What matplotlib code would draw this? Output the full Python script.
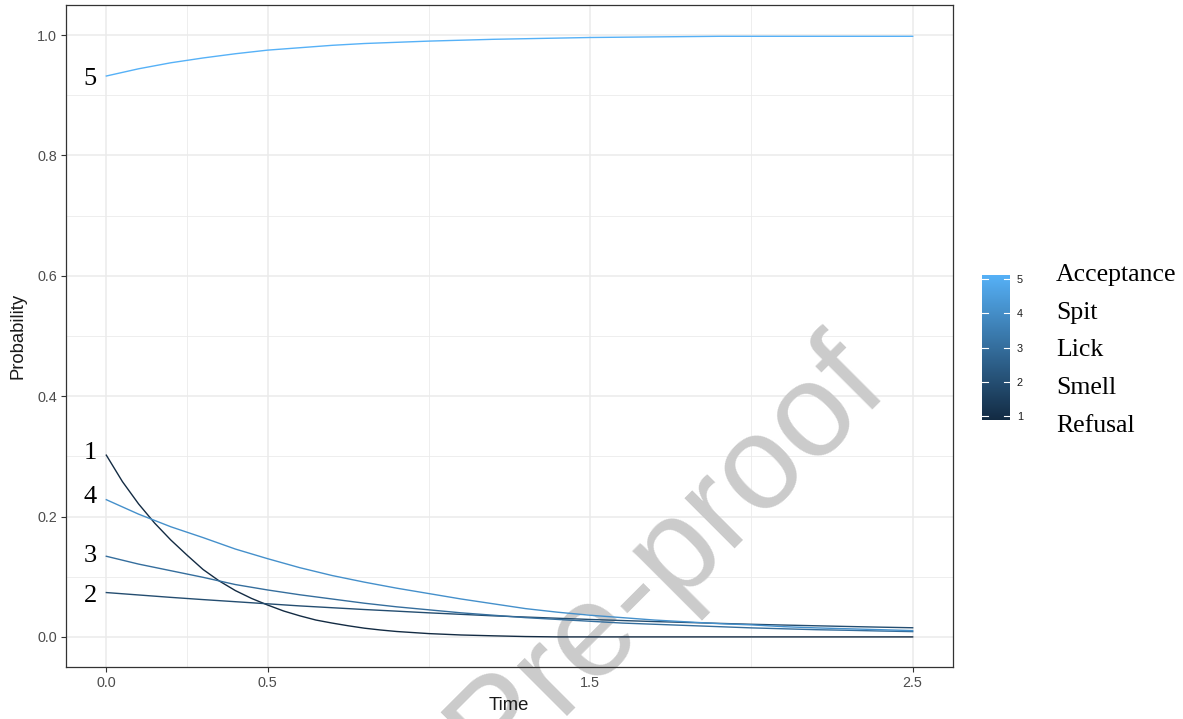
import numpy as np
import matplotlib
matplotlib.use('Agg')
import matplotlib.pyplot as plt
from matplotlib.colors import LinearSegmentedColormap

# values
time = [0.0, 0.1, 0.2, 0.3, 0.4, 0.5, 0.6, 0.7, 0.8, 0.9, 1.0, 1.1, 1.2,
        1.3, 1.4, 1.5, 1.6, 1.7, 1.8, 1.9, 2.0, 2.1, 2.2, 2.3, 2.4, 2.5]

# refusal bends sharply, so it was read at a finer step
refusal_time = [0.0, 0.05, 0.1, 0.15, 0.2, 0.25, 0.3, 0.35, 0.4, 0.45, 0.5,
                0.55, 0.6, 0.65, 0.7, 0.75, 0.8, 0.85, 0.9, 1.0, 1.1, 1.2,
                1.3, 1.4, 2.5]
refusal = [0.302, 0.258, 0.221, 0.189, 0.161, 0.136, 0.112, 0.093, 0.077,
           0.064, 0.053, 0.043, 0.035, 0.028, 0.023, 0.0185, 0.0145, 0.0115,
           0.009, 0.0055, 0.0032, 0.0018, 0.0006, 0.0, 0.0]
smell = [0.0737, 0.0697, 0.0657, 0.062, 0.0585, 0.055, 0.0515, 0.0485,
         0.0455, 0.0428, 0.040, 0.0375, 0.035, 0.033, 0.031, 0.029, 0.0272,
         0.0255, 0.024, 0.0225, 0.021, 0.0197, 0.0185, 0.0173, 0.0162, 0.0152]
lick = [0.134, 0.121, 0.110, 0.099, 0.087, 0.078, 0.070, 0.063, 0.056,
        0.050, 0.045, 0.040, 0.036, 0.032, 0.029, 0.026, 0.023, 0.021,
        0.019, 0.017, 0.015, 0.0135, 0.012, 0.011, 0.0098, 0.0088]
spit = [0.228, 0.204, 0.183, 0.165, 0.146, 0.130, 0.115, 0.102, 0.091,
        0.081, 0.072, 0.063, 0.055, 0.047, 0.041, 0.036, 0.032, 0.028,
        0.025, 0.022, 0.020, 0.017, 0.015, 0.0135, 0.012, 0.0105]
acceptance = [0.932, 0.944, 0.954, 0.962, 0.969, 0.975, 0.979, 0.983,
              0.986, 0.988, 0.990, 0.9915, 0.993, 0.994, 0.995, 0.996,
              0.9965, 0.997, 0.9975, 0.998, 0.998, 0.998, 0.998, 0.998,
              0.998, 0.998]

levels = [1, 2, 3, 4, 5]
names = ['Refusal', 'Smell', 'Lick', 'Spit', 'Acceptance']
label_pos = [0.311, 0.0735, 0.139, 0.237, 0.932]

series = [(refusal_time, refusal), (time, smell), (time, lick),
          (time, spit), (time, acceptance)]

W, H = 1183, 719
cmap = LinearSegmentedColormap.from_list('gg', ['#132B43', '#56B1F7'])

fig = plt.figure(figsize=(W / 100, H / 100), dpi=100)
ax = fig.add_axes([66 / W, 1 - 667 / H, (953 - 66) / W, (667 - 5) / H])

for lev, (t, vals) in zip(levels, series):
    ax.plot(t, vals, color=cmap((lev - 1) / 4), lw=1.0, zorder=3)

for lev, y in zip(levels, label_pos):
    ax.annotate(str(lev), xy=(0, y), xytext=(-6.8, -6.5),
                textcoords='offset points', ha='right', va='baseline',
                fontsize=19, family='Liberation Serif', color='black')

ax.set_xlim(-0.125, 2.625)
ax.set_ylim(-0.05, 1.05)
ax.set_xticks([0, 0.5, 1.5, 2.5])
ax.set_xticklabels(['0.0', '0.5', '1.5', '2.5'])
ax.set_xticks([0.25, 1.0, 2.0], minor=True)
ax.set_yticks([0, 0.2, 0.4, 0.6, 0.8, 1.0])
ax.set_yticklabels(['0.0', '0.2', '0.4', '0.6', '0.8', '1.0'])
ax.set_yticks([0.1, 0.3, 0.5, 0.7, 0.9], minor=True)
ax.set_axisbelow(True)
ax.grid(which='major', color='#EBEBEB', lw=1.1)
ax.grid(which='minor', color='#EBEBEB', lw=0.6)
ax.tick_params(which='major', length=3.5, width=0.8, color='#333333',
               labelsize=10.4, labelcolor='#4D4D4D', pad=3)
ax.tick_params(which='minor', length=0)
for lab in ax.get_xticklabels() + ax.get_yticklabels():
    lab.set_family('Liberation Sans')
for s in ax.spines.values():
    s.set_color('#333333')
    s.set_linewidth(0.9)

fig.text(18 / W, 1 - 336 / H, 'Probability', rotation=90, ha='center',
         va='center', fontsize=13.3, family='Liberation Sans', color='#1A1A1A')
fig.text(509 / W, 1 - 706 / H, 'Time', ha='center', va='center',
         fontsize=13.3, family='Liberation Sans', color='#1A1A1A')

# colour bar
cax = fig.add_axes([982 / W, 1 - 420 / H, 28 / W, 145 / H])
grad = np.linspace(1, 5, 256).reshape(-1, 1)
cax.imshow(grad, cmap=cmap, aspect='auto', origin='lower',
           extent=[0, 1, 0.895, 5.105], vmin=1, vmax=5)
cax.set_xlim(0, 1)
cax.set_ylim(0.895, 5.105)
for lev in levels:
    cax.plot([0, 0.2], [lev, lev], color='white', lw=0.8)
    cax.plot([0.8, 1], [lev, lev], color='white', lw=0.8)
cax.set_xticks([])
cax.yaxis.tick_right()
cax.set_yticks(levels)
cax.set_yticklabels([str(v) for v in levels])
cax.tick_params(length=0, pad=5, labelsize=7.8, labelcolor='#1A1A1A')
for lab in cax.get_yticklabels():
    lab.set_family('Liberation Sans')
for s in cax.spines.values():
    s.set_visible(False)

for i, name in enumerate(names):
    fig.text(1056 / W, 1 - (431.7 - 37.7 * i) / H, name, ha='left',
             va='baseline', fontsize=18.5, family='Liberation Serif',
             color='black')

# watermark, cut by the lower edge as in the reference
ax.text(667 / W, 1 - 556 / H, 'Pre-proof', transform=fig.transFigure,
        rotation=45, ha='center', va='center', fontsize=96,
        family='Liberation Sans', color='#CBCBCB',
        zorder=2, clip_on=False)

fig.savefig('out.png', dpi=100)
